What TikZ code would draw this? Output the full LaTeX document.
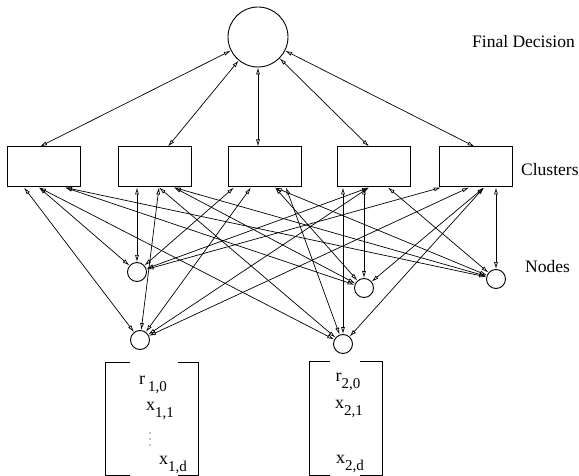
\documentclass[tikz,border=0pt]{standalone}
\usepackage{fontspec}
\setmainfont{Liberation Serif}
\usetikzlibrary{arrows.meta}
\newcommand{\vecent}[2]{#1\raisebox{-0.35em}{\fontsize{15}{15}\selectfont #2}}

\begin{document}
\begin{tikzpicture}[x=1pt,y=-1pt,
   cluster/.style={draw,line width=1pt,minimum width=73pt,minimum height=40pt,inner sep=0pt},
   unit/.style={draw,circle,line width=0.9pt,minimum size=19pt,inner sep=0pt},
   link/.style={{Latex[open,length=7pt,width=4pt]}-{Latex[open,length=7pt,width=4pt]},line width=0.7pt},
   lbl/.style={font=\fontsize{17.5}{20}\selectfont,anchor=west,inner sep=0pt},
   entry/.style={font=\fontsize{18}{20}\selectfont,inner sep=0pt}]
   \useasboundingbox (0,0) rectangle (579,476);

   % decision, clusters, nodes
   \node[unit,minimum size=60pt] (fd) at (258,37) {};
   \node[cluster] (c1) at (44,167) {};
   \node[cluster] (c2) at (154.5,167) {};
   \node[cluster] (c3) at (264.5,167) {};
   \node[cluster] (c4) at (374,167) {};
   \node[cluster] (c5) at (476,167) {};
   \node[unit] (n1) at (137,272) {};
   \node[unit] (n2) at (364,288) {};
   \node[unit] (n3) at (496,279) {};
   \node[unit] (b1) at (140,340) {};
   \node[unit] (b2) at (343,344) {};

   \node[lbl] (fdlabel) at (472,42) {Final Decision};
   \node[lbl] (cllabel) at (521,170) {Clusters};
   \node[lbl] (ndlabel) at (525,267) {Nodes};

   \foreach \c/\dx in {c1/-4,c2/13.5,c3/-6.5,c4/-5,c5/-1.5}
      \draw[link] (fd) -- ([xshift=\dx pt]\c.north);

   \foreach \c/\dx/\t in {c1/-20/b1,c1/-5/n1,c1/-5/b2,c1/21/n2,c1/21/n3,
                          c2/-17.5/n1,c2/4.5/b1,c2/4.5/b2,c2/19.5/n2,c2/19.5/n3,
                          c3/-30.5/n1,c3/-13.5/b1,c3/10.5/n2,c3/10.5/n3,c3/21.5/b2,
                          c4/-31/b2,c4/-10/n2,c4/-5/n1,c4/-5/b1,c4/14/n3,
                          c5/-35/n1,c5/-7/b1,c5/8/n2,c5/8/b2,c5/20/n3}
      \draw[link] ([xshift=\dx pt]\c.south) -- (\t);

   % input vectors
   \draw[line width=1pt] (130,362) -- (105,362) -- (105,475) -- (130,475);
   \draw[line width=1pt] (178,362) -- (198,362) -- (198,475) -- (178,475);
   \draw[line width=1pt] (330,361) -- (309,361) -- (309,475) -- (330,475);
   \draw[line width=1pt] (360,361) -- (382,361) -- (382,475) -- (360,475);

   \node[entry] (r10) at (153,385) {\vecent{r\,}{1,0}};
   \node[entry] (x11) at (160,411) {\vecent{x}{1,1}};
   \foreach \y in {433,439,445}
      \fill (150,\y) circle (0.7pt);
   \node[entry] (x1d) at (173,465) {\vecent{x}{1,d}};
   \node[entry] (r20) at (348,382) {\vecent{r}{2,0}};
   \node[entry] (x21) at (349,409) {\vecent{x}{2,1}};
   \node[entry] (x2d) at (350,464) {\vecent{x}{2,d}};
\end{tikzpicture}
\end{document}
